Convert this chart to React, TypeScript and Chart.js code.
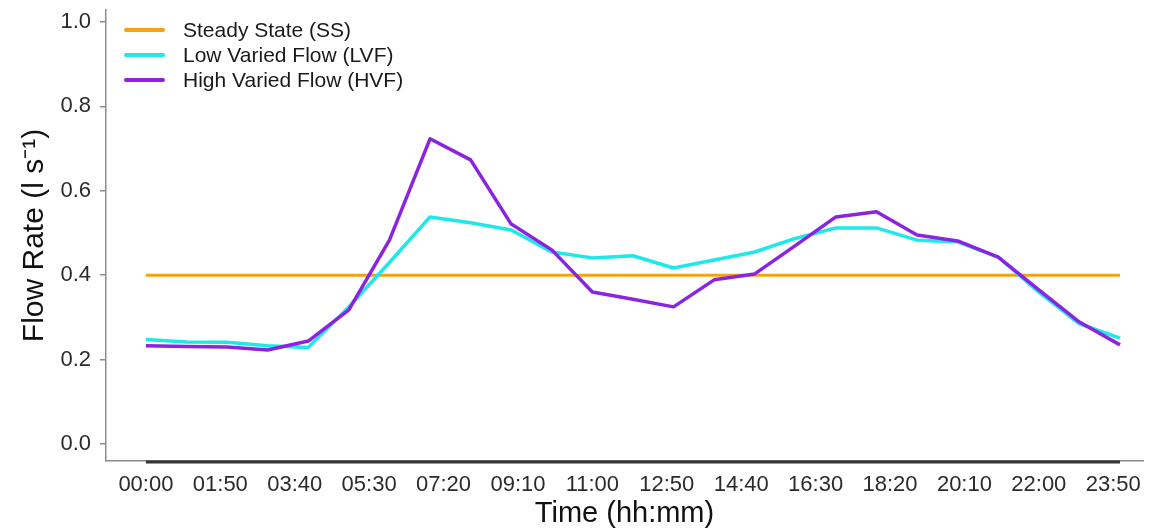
import React, { useEffect, useRef } from "react";
import { Chart, registerables } from "chart.js";

Chart.register(...registerables);

// ---- Data ----
const timeHours = [0, 1, 2, 3, 4, 5, 6, 7, 8, 9, 10, 11, 12, 13, 14, 15, 16, 17, 18, 19, 20, 21, 22, 23, 24];

const steadyState = [0.4, 0.4, 0.4, 0.4, 0.4, 0.4, 0.4, 0.4, 0.4, 0.4, 0.4, 0.4, 0.4, 0.4, 0.4, 0.4, 0.4, 0.4, 0.4, 0.4, 0.4, 0.4, 0.4, 0.4, 0.4];

const lowVaried = [0.248, 0.242, 0.241, 0.233, 0.229, 0.325, 0.43, 0.538, 0.524, 0.507, 0.455, 0.441, 0.446, 0.417, 0.436, 0.455, 0.487, 0.512, 0.512, 0.483, 0.479, 0.443, 0.36, 0.285, 0.251];

const highVaried = [0.233, 0.231, 0.23, 0.223, 0.244, 0.318, 0.483, 0.723, 0.673, 0.521, 0.46, 0.36, 0.343, 0.325, 0.389, 0.403, 0.47, 0.538, 0.55, 0.495, 0.481, 0.443, 0.365, 0.289, 0.235];

const seriesNames = ["Steady State (SS)", "Low Varied Flow (LVF)", "High Varied Flow (HVF)"];
const seriesColors = ["#F4A310", "#1EE8E8", "#8A24E0"];
const seriesWidths = [3, 3.5, 3.5];

const xTickLabels = ["00:00", "01:50", "03:40", "05:30", "07:20", "09:10", "11:00", "12:50", "14:40", "16:30", "18:20", "20:10", "22:00", "23:50"];
const yTickValues = [0.0, 0.2, 0.4, 0.6, 0.8, 1.0];

const xTitle = "Time (hh:mm)";
const yTitle = "Flow Rate (l s\u207B\u00B9)";

const FONT = "'Liberation Sans', Arial, sans-serif";

const toMinutes = (label: string) => {
  const [h, m] = label.split(":").map(Number);
  return h * 60 + m;
};
const fmtMinutes = (v: number) => {
  const h = Math.floor(v / 60);
  const m = Math.round(v - h * 60);
  return String(h).padStart(2, "0") + ":" + String(m).padStart(2, "0");
};

const insetLegend = {
  id: "insetLegend",
  afterDatasetsDraw(chart: any) {
    const { ctx, chartArea } = chart;
    ctx.save();
    chart.data.datasets.forEach((ds: any, i: number) => {
      const y = chartArea.top + 20 + i * 25;
      const x0 = chartArea.left + 18;
      ctx.strokeStyle = ds.borderColor;
      ctx.lineWidth = 4;
      ctx.lineCap = "round";
      ctx.beginPath();
      ctx.moveTo(x0 + 2, y);
      ctx.lineTo(x0 + 39, y);
      ctx.stroke();
      ctx.fillStyle = "#1a1a1a";
      ctx.font = `21px ${FONT}`;
      ctx.textBaseline = "middle";
      ctx.textAlign = "left";
      ctx.fillText(ds.label, x0 + 59, y + 1);
    });
    ctx.restore();
  },
};

const rangeFrame = {
  id: "rangeFrame",
  afterDraw(chart: any) {
    const { ctx, chartArea, scales } = chart;
    const xs = scales.x;
    const xsData = timeHours.map((h) => h * 60);
    const x1 = xs.getPixelForValue(Math.min(...xsData));
    const x2 = xs.getPixelForValue(Math.max(...xsData));
    ctx.save();
    ctx.strokeStyle = "#333333";
    ctx.lineWidth = 3;
    ctx.beginPath();
    ctx.moveTo(x1, chartArea.bottom + 1);
    ctx.lineTo(x2, chartArea.bottom + 1);
    ctx.stroke();
    ctx.restore();
  },
};

export default function App() {
  const ref = useRef<HTMLCanvasElement | null>(null);

  useEffect(() => {
    if (!ref.current) return;
    const mk = (vals: number[]) => timeHours.map((h, i) => ({ x: h * 60, y: vals[i] }));
    const allSeries = [steadyState, lowVaried, highVaried];
    const chart = new Chart(ref.current, {
      type: "line",
      data: {
        datasets: allSeries.map((vals, i) => ({
          label: seriesNames[i],
          data: mk(vals),
          borderColor: seriesColors[i],
          backgroundColor: seriesColors[i],
          borderWidth: seriesWidths[i],
          pointRadius: 0,
          tension: 0,
          borderJoinStyle: "round" as const,
          order: 2 - i,
        })),
      },
      options: {
        animation: false,
        responsive: false,
        devicePixelRatio: 1,
        layout: { padding: { top: 10, right: 9, left: 0, bottom: 0 } },
        plugins: {
          legend: { display: false },
          tooltip: { enabled: false },
        },
        scales: {
          x: {
            type: "linear",
            min: -59,
            max: 1474,
            grid: { display: false, drawTicks: false },
            border: { display: true, color: "#8c8c8c", width: 1.5 },
            afterBuildTicks: (scale: any) => {
              scale.ticks = xTickLabels.map((l) => ({ value: toMinutes(l) }));
            },
            afterFit: (scale: any) => {
              scale.height = 70;
              scale.paddingLeft = 0;
              scale.paddingRight = 0;
            },
            ticks: {
              autoSkip: false,
              maxRotation: 0,
              padding: 11,
              color: "#2b2b2b",
              font: { family: FONT, size: 22 },
              callback: (v: any) => fmtMinutes(Number(v)),
            },
            title: {
              display: true,
              text: xTitle,
              color: "#111",
              font: { family: FONT, size: 29 },
              padding: { top: 0, bottom: 0 },
            },
          },
          y: {
            type: "linear",
            min: -0.04,
            max: 1.028,
            grid: {
              display: true,
              drawOnChartArea: false,
              drawTicks: true,
              tickLength: 6,
              color: "#8c8c8c",
              lineWidth: 1.5,
            },
            border: { display: true, color: "#8c8c8c", width: 1.5 },
            afterBuildTicks: (scale: any) => {
              scale.ticks = yTickValues.map((v) => ({ value: v }));
            },
            afterFit: (scale: any) => {
              scale.width = 106;
              scale.paddingTop = 0;
              scale.paddingBottom = 0;
            },
            ticks: {
              padding: 9,
              color: "#2b2b2b",
              font: { family: FONT, size: 22 },
              callback: (v: any) => Number(v).toFixed(1),
            },
            title: {
              display: true,
              text: yTitle,
              color: "#111",
              font: { family: FONT, size: 30 },
              padding: { top: 17, bottom: 0 },
            },
          },
        },
      },
      plugins: [insetLegend, rangeFrame],
    });
    return () => chart.destroy();
  }, []);

  return (
    <div style={{ position: "fixed", left: 0, top: 0, width: 1152, height: 531, background: "#fff" }}>
      <canvas ref={ref} width={1152} height={531} style={{ display: "block" }} />
    </div>
  );
}
